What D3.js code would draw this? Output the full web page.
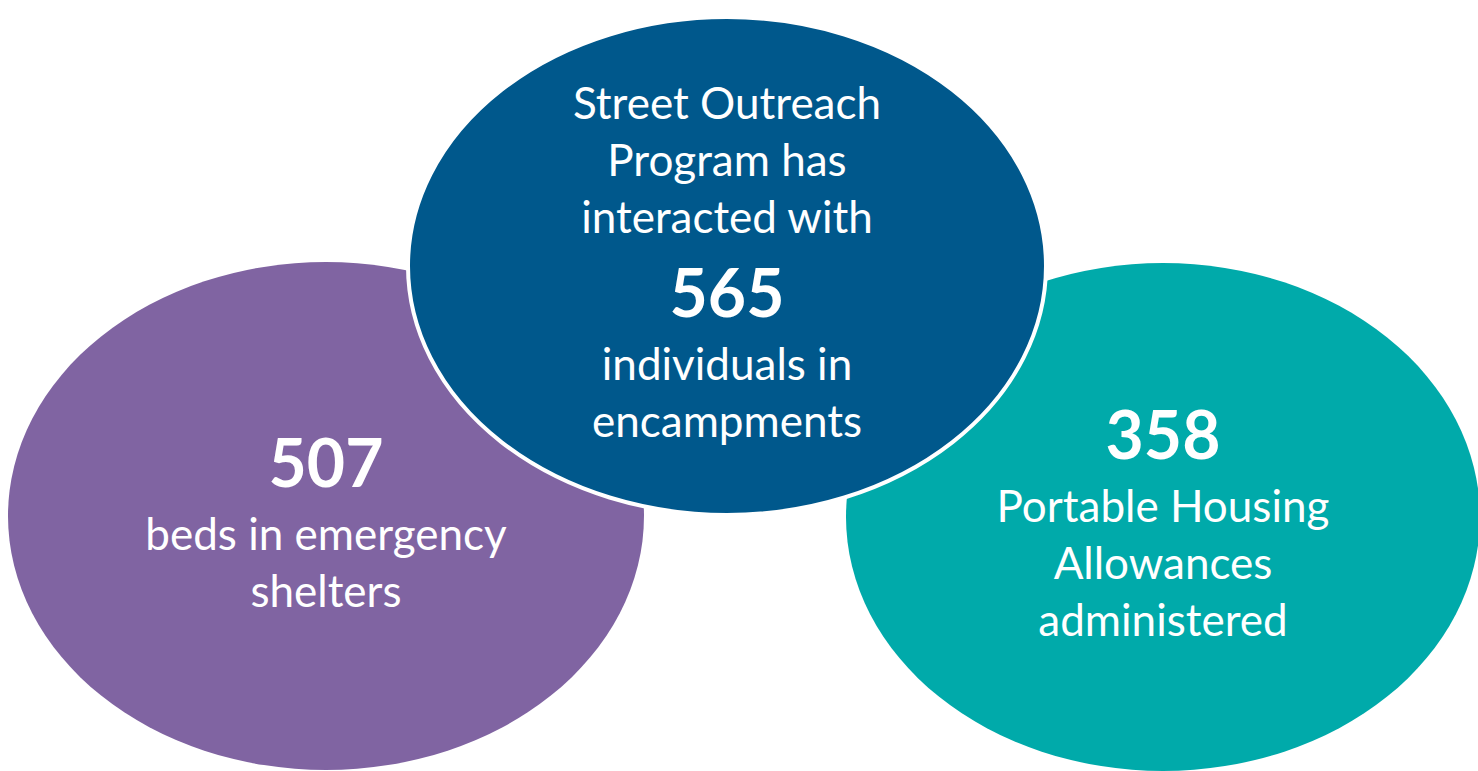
<!DOCTYPE html>
<html>
<head>
<meta charset="utf-8">
<script src="https://d3js.org/d3.v7.min.js"></script>
<style>
  body { margin: 0; background: #ffffff; }
  svg text { font-family: Lato, "Open Sans", sans-serif; fill: #ffffff; }
</style>
</head>
<body>
<svg id="chart"></svg>
<script>
// values shown in the bubbles
var programs = ["shelters", "outreach", "housing"];
var counts = [507, 565, 358];
var textBefore = [[], ["Street Outreach", "Program has", "interacted with"], []];
var textAfter = [["beds in emergency", "shelters"], ["individuals in", "encampments"], ["Portable Housing", "Allowances", "administered"]];
var colors = ["#8064a2", "#00588c", "#00aaaa"];

var W = 1478, H = 771;
var svg = d3.select("#chart").attr("width", W).attr("height", H);

// bubble layout (pixels)
var layout = {
  shelters: {cx: 326, cy: 516, rx: 318, ry: 254, top: 487},
  outreach: {cx: 727, cy: 266, rx: 319, ry: 249, top: 119},
  housing:  {cx: 1163, cy: 517, rx: 317, ry: 254, top: 459}
};

var color = d3.scaleOrdinal().domain(programs).range(colors);

var data = programs.map(function(p, i) {
  return {key: p, count: counts[i], before: textBefore[i], after: textAfter[i]};
});

// draw order: side bubbles first, the outreach one on top
var order = ["shelters", "housing", "outreach"];
data.sort(function(a, b) { return order.indexOf(a.key) - order.indexOf(b.key); });

var lineH = 57, numGap = 84, afterGap = 63;

var g = svg.selectAll("g.bubble")
  .data(data)
  .enter().append("g")
  .attr("class", "bubble");

g.append("ellipse")
  .attr("cx", function(d) { return layout[d.key].cx; })
  .attr("cy", function(d) { return layout[d.key].cy; })
  .attr("rx", function(d) { return layout[d.key].rx; })
  .attr("ry", function(d) { return layout[d.key].ry; })
  .attr("fill", function(d) { return color(d.key); })
  .attr("stroke", function(d) { return d.key == "outreach" ? "#ffffff" : "none"; })
  .attr("stroke-width", 4);

g.each(function(d) {
  var L = layout[d.key];
  var sel = d3.select(this);
  var y = L.top;
  d.before.forEach(function(t) {
    sel.append("text").attr("x", L.cx).attr("y", y)
      .attr("text-anchor", "middle").style("font-size", "44px").text(t);
    y += lineH;
  });
  if (d.before.length) y += numGap - lineH;
  sel.append("text").attr("x", L.cx).attr("y", y)
    .attr("text-anchor", "middle").style("font-size", "66px").style("font-weight", "bold")
    .text(d.count);
  y += afterGap;
  d.after.forEach(function(t) {
    sel.append("text").attr("x", L.cx).attr("y", y)
      .attr("text-anchor", "middle").style("font-size", "44px").text(t);
    y += lineH;
  });
});
</script>
</body>
</html>
